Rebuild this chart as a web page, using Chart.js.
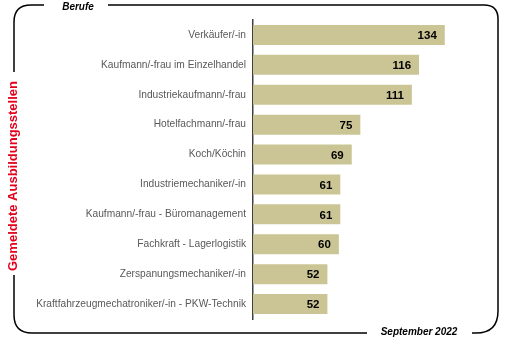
<!DOCTYPE html>
<html>
<head>
<meta charset="utf-8">
<script src="https://cdn.jsdelivr.net/npm/chart.js@4/dist/chart.umd.min.js"></script>
<style>
    html, body { margin: 0; padding: 0; background: #fff; }
    #wrap { position: relative; width: 511px; height: 344px; }
</style>
</head>
<body>
<div id="wrap"><canvas id="berufeChart" width="511" height="344"></canvas></div>
<script>
const berufe = [
    'Verkäufer/-in',
    'Kaufmann/-frau im Einzelhandel',
    'Industriekaufmann/-frau',
    'Hotelfachmann/-frau',
    'Koch/Köchin',
    'Industriemechaniker/-in',
    'Kaufmann/-frau - Büromanagement',
    'Fachkraft - Lagerlogistik',
    'Zerspanungsmechaniker/-in',
    'Kraftfahrzeugmechatroniker/-in - PKW-Technik',
];
const stellen = [134, 116, 111, 75, 69, 61, 61, 60, 52, 52];

const frameTitleTop = 'Berufe';
const frameTitleBottom = 'September 2022';
const frameTitleLeft = 'Gemeldete Ausbildungsstellen';

// value printed inside the end of each bar
const barValues = {
    id: 'barValues',
    afterDatasetsDraw(chart) {
        const ctx = chart.ctx;
        const meta = chart.getDatasetMeta(0);
        ctx.save();
        ctx.font = 'bold 11.5px "Liberation Sans", Arial, sans-serif';
        ctx.fillStyle = '#000';
        ctx.textAlign = 'right';
        ctx.textBaseline = 'middle';
        meta.data.forEach((bar, i) => {
            ctx.fillText(chart.data.datasets[0].data[i], bar.x - 8, bar.y + 1);
        });
        ctx.restore();
    }
};

// rounded frame with captions sitting in the gaps of the border
const frame = {
    id: 'frame',
    afterDraw(chart) {
        const ctx = chart.ctx;
        const L = 14, T = 5, R = 498, B = 333;
        ctx.save();
        ctx.strokeStyle = '#000';
        ctx.lineWidth = 1.5;

        ctx.beginPath();
        // top edge from the top caption gap, round top-right corner, down the right side
        ctx.moveTo(108, T);
        ctx.lineTo(R - 14, T);
        ctx.quadraticCurveTo(R, T, R, T + 14);
        ctx.lineTo(R, B - 22);
        ctx.quadraticCurveTo(R, B, R - 22, B);
        ctx.lineTo(472, B);
        ctx.stroke();

        ctx.beginPath();
        ctx.moveTo(367, B);
        ctx.lineTo(L + 18, B);
        ctx.quadraticCurveTo(L, B, L, B - 18);
        ctx.lineTo(L, 275);
        ctx.stroke();

        ctx.beginPath();
        ctx.moveTo(L, 72);
        ctx.lineTo(L, T + 17);
        ctx.quadraticCurveTo(L, T, L + 17, T);
        ctx.lineTo(44, T);
        ctx.stroke();

        ctx.font = 'italic bold 10px "Liberation Sans", Arial, sans-serif';
        ctx.fillStyle = '#000';
        ctx.textAlign = 'center';
        ctx.textBaseline = 'middle';
        ctx.fillText(frameTitleTop, 78, T + 2);
        ctx.fillText(frameTitleBottom, 419, B - 1);

        ctx.translate(L - 1, 176);
        ctx.rotate(-Math.PI / 2);
        ctx.font = 'bold 13px "Liberation Sans", Arial, sans-serif';
        ctx.fillStyle = '#E2001A';
        ctx.fillText(frameTitleLeft, 0, 0);
        ctx.restore();
    }
};

new Chart(document.getElementById('berufeChart'), {
    type: 'bar',
    data: {
        labels: berufe,
        datasets: [{
            data: stellen,
            backgroundColor: '#CBC596',
            borderWidth: 0,
            barPercentage: 0.67,
            categoryPercentage: 1,
        }],
    },
    options: {
        indexAxis: 'y',
        responsive: false,
        animation: false,
        layout: { padding: { left: 0, right: 29, top: 20, bottom: 25 } },
        scales: {
            x: {
                display: false,
                min: 0,
                max: 160,
            },
            y: {
                afterFit: (scale) => { scale.width = 253; },
                grid: { display: false, drawTicks: false },
                border: { display: true, color: '#404040', width: 1.5 },
                ticks: {
                    padding: 7,
                    color: '#595959',
                    font: { family: '"Liberation Sans", Arial, sans-serif', size: 10.2 },
                },
            },
        },
        plugins: {
            legend: { display: false },
            tooltip: { enabled: false },
        },
    },
    plugins: [barValues, frame],
});
</script>
</body>
</html>
